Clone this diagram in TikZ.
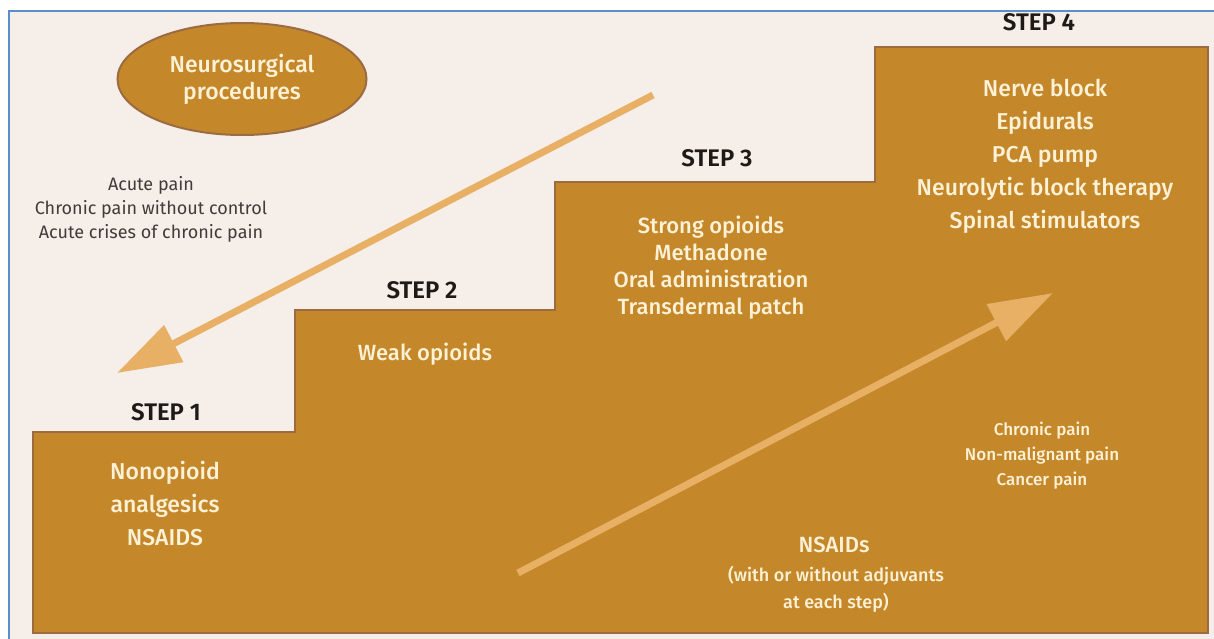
\documentclass[tikz,border=0pt]{standalone}
\usepackage{fontspec}
\setmainfont{Fira Sans}
\newfontfamily\medfont{Fira Sans}[UprightFont={* Medium}, BoldFont={* SemiBold}]
\usetikzlibrary{arrows.meta}
\usetikzlibrary{shapes.geometric}
\definecolor{paper}{HTML}{F6EEE9}
\definecolor{frameblue}{HTML}{5B8FCB}
\definecolor{stairfill}{HTML}{C4872A}
\definecolor{stairedge}{HTML}{9C6B42}
\definecolor{arrowtan}{HTML}{E8B064}
\definecolor{cream}{HTML}{FDF1D6}
\definecolor{ink}{HTML}{1E1A18}
\tikzset{
  steplabel/.style={font=\fontsize{24}{26}\selectfont\medfont\bfseries, text=ink},
  druglist/.style={font=\fontsize{22}{27}\selectfont\medfont, text=cream, align=center},
  painlist/.style={font=\fontsize{18}{24}\selectfont, align=center},
  bigarrow/.style={arrowtan, line width=7, -{Triangle[length=64, width=40]}}
}

\begin{document}
\begin{tikzpicture}[x=1pt,y=-1pt]
\useasboundingbox (0,0) rectangle (1214,639);
\fill[paper] (9,11) rectangle (1214,639);
\draw[frameblue, line width=1.5] (9,639)--(9,11)--(1214,11);
\draw[stairedge, line width=2.5, fill=stairfill] (33,633)--(33,432)--(295,432)--(295,310)--(555,310)--(555,182)--(875,182)--(875,47)--(1208,47)--(1208,633)--cycle;

\node[ellipse, fill=stairfill, draw=stairedge, line width=2, minimum width=249, minimum height=112, inner sep=0, druglist, font=\fontsize{23}{27}\selectfont\medfont] (neuro) at (242,79) {Neurosurgical\\procedures};
\node[painlist, text=ink!85] (acute) at (151,209) {Acute pain\\Chronic pain without control\\Acute crises of chronic pain};

\node[steplabel] (step1) at (166,412) {STEP 1};
\node[steplabel] (step2) at (422,290) {STEP 2};
\node[steplabel] (step3) at (717,158) {STEP 3};
\node[steplabel] (step4) at (1039,22) {STEP 4};

\node[druglist, font=\fontsize{23}{33}\selectfont\medfont] (drug1) at (165,504) {Nonopioid\\analgesics\\NSAIDS};
\node[druglist] (drug2) at (425,354) {Weak opioids};
\node[druglist] (drug3) at (711,268) {Strong opioids\\Methadone\\Oral administration\\Transdermal patch};
\node[druglist, font=\fontsize{23}{33}\selectfont\medfont] (drug4) at (1045,156) {Nerve block\\Epidurals\\PCA pump\\Neurolytic block therapy\\Spinal stimulators};

\node[druglist, font=\fontsize{17}{25}\selectfont\medfont] (chronic) at (1042,456) {Chronic pain\\Non-malignant pain\\Cancer pain};
\node[druglist] (nsaid) at (834,545) {NSAIDs};
\node[druglist, font=\fontsize{18}{27}\selectfont\medfont] (adjuv) at (836,589) {(with or without adjuvants\\at each step)};

\coordinate (downTail) at (653,95);
\coordinate (downTip) at (117,373);
\coordinate (upTail) at (518,573);
\coordinate (upTip) at (1053,293);
\draw[bigarrow] (downTail)--(downTip);
\draw[bigarrow] (upTail)--(upTip);
\end{tikzpicture}
\end{document}
